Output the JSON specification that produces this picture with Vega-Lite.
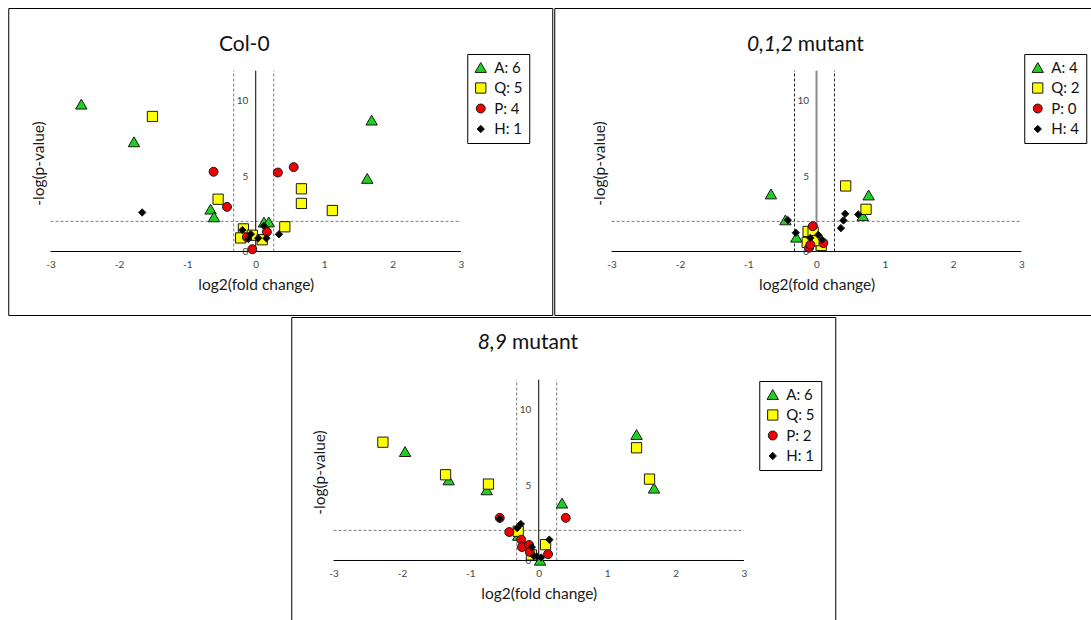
{
  "$schema": "https://vega.github.io/schema/vega-lite/v6.json",
  "background": "white",
  "padding": {"left": 7, "top": 7, "right": 0, "bottom": 0},
  "datasets": {
    "col0": [
      {"cls": "A", "lfc": -2.55, "nlp": 9.78},
      {"cls": "A", "lfc": -1.78, "nlp": 7.28},
      {"cls": "A", "lfc": 1.695, "nlp": 8.72},
      {"cls": "A", "lfc": 1.63, "nlp": 4.85},
      {"cls": "A", "lfc": -0.66, "nlp": 2.81},
      {"cls": "A", "lfc": -0.61, "nlp": 2.3},
      {"cls": "A", "lfc": 0.12, "nlp": 1.95},
      {"cls": "A", "lfc": 0.19, "nlp": 1.96},
      {"cls": "Q", "lfc": -1.51, "nlp": 8.96},
      {"cls": "Q", "lfc": -0.55, "nlp": 3.47},
      {"cls": "Q", "lfc": 0.668, "nlp": 4.16},
      {"cls": "Q", "lfc": 0.668, "nlp": 3.19},
      {"cls": "Q", "lfc": 1.12, "nlp": 2.72},
      {"cls": "Q", "lfc": 0.425, "nlp": 1.64},
      {"cls": "Q", "lfc": -0.18, "nlp": 1.5},
      {"cls": "Q", "lfc": -0.22, "nlp": 0.9},
      {"cls": "Q", "lfc": -0.05, "nlp": 1.08},
      {"cls": "Q", "lfc": 0.095, "nlp": 0.78},
      {"cls": "P", "lfc": -0.616, "nlp": 5.29},
      {"cls": "P", "lfc": -0.42, "nlp": 2.96},
      {"cls": "P", "lfc": 0.324, "nlp": 5.24},
      {"cls": "P", "lfc": 0.555, "nlp": 5.6},
      {"cls": "P", "lfc": 0.163, "nlp": 1.3},
      {"cls": "P", "lfc": -0.05, "nlp": 0.15},
      {"cls": "P", "lfc": -0.13, "nlp": 0.95},
      {"cls": "H", "lfc": -1.66, "nlp": 2.59},
      {"cls": "H", "lfc": -0.195, "nlp": 1.42},
      {"cls": "H", "lfc": 0.12, "nlp": 1.7},
      {"cls": "H", "lfc": 0.34, "nlp": 1.14},
      {"cls": "H", "lfc": -0.107, "nlp": 0.83},
      {"cls": "H", "lfc": -0.072, "nlp": 1.15},
      {"cls": "H", "lfc": 0.036, "nlp": 0.88},
      {"cls": "H", "lfc": 0.155, "nlp": 0.88}
    ],
    "m012": [
      {"cls": "A", "lfc": -0.667, "nlp": 3.82},
      {"cls": "A", "lfc": 0.763, "nlp": 3.75},
      {"cls": "A", "lfc": -0.455, "nlp": 2.1},
      {"cls": "A", "lfc": 0.677, "nlp": 2.38},
      {"cls": "A", "lfc": -0.295, "nlp": 0.95},
      {"cls": "Q", "lfc": 0.427, "nlp": 4.35},
      {"cls": "Q", "lfc": 0.725, "nlp": 2.8},
      {"cls": "Q", "lfc": -0.123, "nlp": 1.33},
      {"cls": "Q", "lfc": -0.05, "nlp": 1.28},
      {"cls": "Q", "lfc": -0.136, "nlp": 0.6},
      {"cls": "Q", "lfc": 0.069, "nlp": 0.4},
      {"cls": "Q", "lfc": 0.01, "nlp": 0.72},
      {"cls": "P", "lfc": -0.055, "nlp": 1.68},
      {"cls": "P", "lfc": -0.108, "nlp": 0.25},
      {"cls": "P", "lfc": 0.1, "nlp": 0.56},
      {"cls": "P", "lfc": -0.09, "nlp": 0.45},
      {"cls": "H", "lfc": 0.42, "nlp": 2.5},
      {"cls": "H", "lfc": 0.395, "nlp": 2.06},
      {"cls": "H", "lfc": 0.357, "nlp": 1.55},
      {"cls": "H", "lfc": 0.611, "nlp": 2.46},
      {"cls": "H", "lfc": -0.42, "nlp": 2.08},
      {"cls": "H", "lfc": -0.303, "nlp": 1.24},
      {"cls": "H", "lfc": 0.025, "nlp": 1.1},
      {"cls": "H", "lfc": 0.08, "nlp": 0.78},
      {"cls": "H", "lfc": -0.09, "nlp": 0.9}
    ],
    "m89": [
      {"cls": "A", "lfc": -1.954, "nlp": 7.23},
      {"cls": "A", "lfc": -1.316, "nlp": 5.35},
      {"cls": "A", "lfc": -0.76, "nlp": 4.69},
      {"cls": "A", "lfc": 0.34, "nlp": 3.81},
      {"cls": "A", "lfc": 1.43, "nlp": 8.36},
      {"cls": "A", "lfc": 1.686, "nlp": 4.8},
      {"cls": "A", "lfc": -0.3, "nlp": 1.67},
      {"cls": "A", "lfc": 0.02, "nlp": 0.02},
      {"cls": "Q", "lfc": -2.278, "nlp": 7.85},
      {"cls": "Q", "lfc": -1.362, "nlp": 5.69},
      {"cls": "Q", "lfc": -0.735, "nlp": 5.07},
      {"cls": "Q", "lfc": 1.43, "nlp": 7.48},
      {"cls": "Q", "lfc": 1.62, "nlp": 5.4},
      {"cls": "Q", "lfc": -0.3, "nlp": 1.94},
      {"cls": "Q", "lfc": 0.1, "nlp": 1.05},
      {"cls": "Q", "lfc": -0.106, "nlp": 0.37},
      {"cls": "P", "lfc": -0.57, "nlp": 2.83},
      {"cls": "P", "lfc": 0.395, "nlp": 2.83},
      {"cls": "P", "lfc": -0.43, "nlp": 1.89},
      {"cls": "P", "lfc": -0.255, "nlp": 1.38},
      {"cls": "P", "lfc": -0.245, "nlp": 0.89},
      {"cls": "P", "lfc": -0.14, "nlp": 1.03},
      {"cls": "P", "lfc": -0.13, "nlp": 0.57},
      {"cls": "P", "lfc": 0.136, "nlp": 0.42},
      {"cls": "H", "lfc": -0.57, "nlp": 2.76},
      {"cls": "H", "lfc": -0.262, "nlp": 2.42},
      {"cls": "H", "lfc": -0.315, "nlp": 2.15},
      {"cls": "H", "lfc": 0.155, "nlp": 1.38},
      {"cls": "H", "lfc": -0.1, "nlp": 0.88},
      {"cls": "H", "lfc": -0.07, "nlp": 0.3},
      {"cls": "H", "lfc": -0.023, "nlp": 0.26},
      {"cls": "H", "lfc": 0.036, "nlp": 0.2}
    ],
    "axislines": [
      {"lfc": -3, "lfc2": 3, "nlp": 0, "nlp2": 0},
      {"lfc": 0, "lfc2": 0, "nlp": 0, "nlp2": 12}
    ],
    "fcCutoffs": [
      {"lfc": -0.322, "lfc2": -0.322, "nlp": 0, "nlp2": 12},
      {"lfc": 0.263, "lfc2": 0.263, "nlp": 0, "nlp2": 12}
    ],
    "pCutoff": [
      {"lfc": -3, "lfc2": 3, "nlp": 2, "nlp2": 2}
    ]
  },
  "vconcat": [
    {
      "hconcat": [
        {
          "width": 544,
          "height": 307,
          "title": {"text": "Col-0", "offset": -64, "dx": -36, "baseline": "alphabetic"},
          "layer": [
            {
              "data": {"name": "pCutoff"},
              "mark": {"type": "rule", "color": "#7a7a7a", "strokeWidth": 1, "strokeDash": [3, 2]},
              "encoding": {
                "x": {"field": "lfc", "type": "quantitative", "scale": {"domain": [-3.618, 4.335], "nice": false, "zero": false},
                  "axis": {"values": [-3, -2, -1, 0, 1, 2, 3], "labelExpr": "'' + datum.value", "offset": -63.5, "title": "log2(fold change)", "titleX": 247.5, "titleY": 38, "titleBaseline": "alphabetic", "labelPadding": 8}},
                "x2": {"field": "lfc2"},
                "y": {"field": "nlp", "type": "quantitative", "scale": {"domain": [-4.214, 16.158], "nice": false, "zero": false},
                  "axis": {"values": [0, 5, 10], "labelExpr": "'' + datum.value", "offset": -247.5, "title": "-log(p-value)", "titleX": -212.5, "titleY": 155, "titleAngle": -90, "titleAlign": "center", "titleBaseline": "alphabetic", "labelPadding": 8}},
                "y2": {"field": "nlp2"}
              }
            },
            {
              "data": {"name": "fcCutoffs"},
              "mark": {"type": "rule", "color": "#7a7a7a", "strokeWidth": 1, "strokeDash": [3, 2]},
              "encoding": {
                "x": {"field": "lfc", "type": "quantitative"},
                "x2": {"field": "lfc2"},
                "y": {"field": "nlp", "type": "quantitative"},
                "y2": {"field": "nlp2"}
              }
            },
            {
              "data": {"name": "axislines"},
              "mark": {"type": "rule", "color": "#000", "strokeWidth": 1},
              "encoding": {
                "x": {"field": "lfc", "type": "quantitative"},
                "x2": {"field": "lfc2"},
                "y": {"field": "nlp", "type": "quantitative"},
                "y2": {"field": "nlp2"}
              }
            },
            {
              "data": {"name": "col0"},
              "mark": {"type": "point", "filled": true, "opacity": 1, "stroke": "#1a1a1a", "strokeWidth": 1},
              "encoding": {
                "x": {"field": "lfc", "type": "quantitative"},
                "y": {"field": "nlp", "type": "quantitative"},
                "color": {"field": "cls", "type": "nominal",
                  "scale": {"domain": ["A", "Q", "P", "H"], "range": ["#20d020", "#ffff00", "#f00000", "#000000"]},
                  "legend": {"title": null, "orient": "none", "legendX": 459, "legendY": 46,
                    "labelExpr": "datum.label == 'A' ? 'A: 6' : datum.label == 'Q' ? 'Q: 5' : datum.label == 'P' ? 'P: 4' : 'H: 1'"}},
                "shape": {"field": "cls", "type": "nominal",
                  "scale": {"domain": ["A", "Q", "P", "H"], "range": ["triangle-up", "square", "circle", "diamond"]}},
                "size": {"field": "cls", "type": "nominal",
                  "scale": {"domain": ["A", "Q", "P", "H"], "range": [130, 55, 55, 40]}, "legend": null}
              }
            }
          ]
        },
        {
          "width": 564,
          "height": 307,
          "layer": [
            {
              "data": {"name": "pCutoff"},
              "mark": {"type": "rule", "color": "#7a7a7a", "strokeWidth": 1, "strokeDash": [3, 2]},
              "encoding": {
                "x": {"field": "lfc", "type": "quantitative", "scale": {"domain": [-3.84, 4.418], "nice": false, "zero": false},
                  "axis": {"values": [-3, -2, -1, 0, 1, 2, 3], "labelExpr": "'' + datum.value", "offset": -63.5, "title": "log2(fold change)", "titleX": 262.3, "titleY": 38, "titleBaseline": "alphabetic", "labelPadding": 8}},
                "x2": {"field": "lfc2"},
                "y": {"field": "nlp", "type": "quantitative", "scale": {"domain": [-4.214, 16.158], "nice": false, "zero": false},
                  "axis": {"values": [0, 5, 10], "labelExpr": "'' + datum.value", "offset": -262.3, "title": "-log(p-value)", "titleX": -212.5, "titleY": 155, "titleAngle": -90, "titleAlign": "center", "titleBaseline": "alphabetic", "labelPadding": 8}},
                "y2": {"field": "nlp2"}
              }
            },
            {
              "data": {"name": "fcCutoffs"},
              "mark": {"type": "rule", "color": "#222", "strokeWidth": 1, "strokeDash": [3, 2]},
              "encoding": {
                "x": {"field": "lfc", "type": "quantitative"},
                "x2": {"field": "lfc2"},
                "y": {"field": "nlp", "type": "quantitative"},
                "y2": {"field": "nlp2"}
              }
            },
            {
              "data": {"name": "axislines"},
              "transform": [{"filter": "datum.nlp2 == 0"}],
              "mark": {"type": "rule", "color": "#000", "strokeWidth": 1},
              "encoding": {
                "x": {"field": "lfc", "type": "quantitative"},
                "x2": {"field": "lfc2"},
                "y": {"field": "nlp", "type": "quantitative"},
                "y2": {"field": "nlp2"}
              }
            },
            {
              "data": {"name": "axislines"},
              "transform": [{"filter": "datum.nlp2 > 0"}],
              "mark": {"type": "rule", "color": "#8c8c8c", "strokeWidth": 2},
              "encoding": {
                "x": {"field": "lfc", "type": "quantitative"},
                "x2": {"field": "lfc2"},
                "y": {"field": "nlp", "type": "quantitative"},
                "y2": {"field": "nlp2"}
              }
            },
            {
              "data": {"name": "m012"},
              "mark": {"type": "point", "filled": true, "opacity": 1, "stroke": "#1a1a1a", "strokeWidth": 1},
              "encoding": {
                "x": {"field": "lfc", "type": "quantitative"},
                "y": {"field": "nlp", "type": "quantitative"},
                "color": {"field": "cls", "type": "nominal",
                  "scale": {"domain": ["A", "Q", "P", "H"], "range": ["#20d020", "#ffff00", "#f00000", "#000000"]},
                  "legend": {"title": null, "orient": "none", "legendX": 470, "legendY": 46,
                    "labelExpr": "datum.label == 'A' ? 'A: 4' : datum.label == 'Q' ? 'Q: 2' : datum.label == 'P' ? 'P: 0' : 'H: 4'"}},
                "shape": {"field": "cls", "type": "nominal",
                  "scale": {"domain": ["A", "Q", "P", "H"], "range": ["triangle-up", "square", "circle", "diamond"]}},
                "size": {"field": "cls", "type": "nominal",
                  "scale": {"domain": ["A", "Q", "P", "H"], "range": [130, 55, 55, 40]}, "legend": null}
              }
            },
            {
              "data": {"values": [{}]},
              "mark": {"type": "text", "text": "0,1,2", "font": "Lato", "fontSize": 21, "fontStyle": "italic", "align": "right", "baseline": "alphabetic", "color": "#111"},
              "encoding": {"x": {"datum": -0.345}, "y": {"datum": 13.29}}
            },
            {
              "data": {"values": [{}]},
              "mark": {"type": "text", "text": "mutant", "font": "Lato", "fontSize": 21, "align": "left", "baseline": "alphabetic", "color": "#111"},
              "encoding": {"x": {"datum": -0.275}, "y": {"datum": 13.29}}
            }
          ]
        }
      ],
      "spacing": 0,
      "resolve": {"scale": {"color": "independent", "shape": "independent", "size": "independent"}}
    },
    {
      "width": 544,
      "height": 307,
      "layer": [
        {
          "data": {"name": "pCutoff"},
          "mark": {"type": "rule", "color": "#7a7a7a", "strokeWidth": 1, "strokeDash": [3, 2]},
          "encoding": {
            "x": {"field": "lfc", "type": "quantitative", "scale": {"domain": [-3.618, 4.335], "nice": false, "zero": false},
              "axis": {"values": [-3, -2, -1, 0, 1, 2, 3], "labelExpr": "'' + datum.value", "offset": -63.5, "title": "log2(fold change)", "titleX": 247.5, "titleY": 38, "titleBaseline": "alphabetic", "labelPadding": 8}},
            "x2": {"field": "lfc2"},
            "y": {"field": "nlp", "type": "quantitative", "scale": {"domain": [-4.214, 16.158], "nice": false, "zero": false},
              "axis": {"values": [0, 5, 10], "labelExpr": "'' + datum.value", "offset": -247.5, "title": "-log(p-value)", "titleX": -214, "titleY": 155, "titleAngle": -90, "titleAlign": "center", "titleBaseline": "alphabetic", "labelPadding": 8}},
            "y2": {"field": "nlp2"}
          }
        },
        {
          "data": {"name": "fcCutoffs"},
          "mark": {"type": "rule", "color": "#7a7a7a", "strokeWidth": 1, "strokeDash": [3, 2]},
          "encoding": {
            "x": {"field": "lfc", "type": "quantitative"},
            "x2": {"field": "lfc2"},
            "y": {"field": "nlp", "type": "quantitative"},
            "y2": {"field": "nlp2"}
          }
        },
        {
          "data": {"name": "axislines"},
          "mark": {"type": "rule", "color": "#000", "strokeWidth": 1},
          "encoding": {
            "x": {"field": "lfc", "type": "quantitative"},
            "x2": {"field": "lfc2"},
            "y": {"field": "nlp", "type": "quantitative"},
            "y2": {"field": "nlp2"}
          }
        },
        {
          "data": {"name": "m89"},
          "mark": {"type": "point", "filled": true, "opacity": 1, "stroke": "#1a1a1a", "strokeWidth": 1},
          "encoding": {
            "x": {"field": "lfc", "type": "quantitative"},
            "y": {"field": "nlp", "type": "quantitative"},
            "color": {"field": "cls", "type": "nominal",
              "scale": {"domain": ["A", "Q", "P", "H"], "range": ["#20d020", "#ffff00", "#f00000", "#000000"]},
              "legend": {"title": null, "orient": "none", "legendX": 468, "legendY": 64,
                "labelExpr": "datum.label == 'A' ? 'A: 6' : datum.label == 'Q' ? 'Q: 5' : datum.label == 'P' ? 'P: 2' : 'H: 1'"}},
            "shape": {"field": "cls", "type": "nominal",
              "scale": {"domain": ["A", "Q", "P", "H"], "range": ["triangle-up", "square", "circle", "diamond"]}},
            "size": {"field": "cls", "type": "nominal",
              "scale": {"domain": ["A", "Q", "P", "H"], "range": [130, 55, 55, 40]}, "legend": null}
          }
        },
        {
          "data": {"values": [{}]},
          "mark": {"type": "text", "text": "8,9", "font": "Lato", "fontSize": 21, "fontStyle": "italic", "align": "right", "baseline": "alphabetic", "color": "#111"},
          "encoding": {"x": {"datum": -0.465}, "y": {"datum": 14.05}}
        },
        {
          "data": {"values": [{}]},
          "mark": {"type": "text", "text": "mutant", "font": "Lato", "fontSize": 21, "align": "left", "baseline": "alphabetic", "color": "#111"},
          "encoding": {"x": {"datum": -0.39}, "y": {"datum": 14.05}}
        }
      ]
    }
  ],
  "spacing": 0,
  "center": true,
  "resolve": {"scale": {"color": "independent", "shape": "independent", "size": "independent"}},
  "config": {
    "font": "Lato",
    "view": {"stroke": "#000", "strokeWidth": 1},
    "axis": {
      "grid": false, "domain": false, "ticks": false, "tickSize": 0,
      "labelFont": "Lato", "labelFontSize": 10, "labelColor": "#444", "labelFlush": false, "labelOverlap": false,
      "titleFont": "Lato", "titleFontSize": 15.5, "titleFontWeight": "normal", "titleColor": "#1a1a1a"
    },
    "legend": {
      "strokeColor": "#000", "fillColor": "#fff", "padding": 6, "cornerRadius": 0,
      "labelFont": "Lato", "labelFontSize": 15, "labelColor": "#111", "labelOffset": 6,
      "symbolSize": 170, "symbolStrokeWidth": 1, "symbolStrokeColor": "#1a1a1a", "rowPadding": 4.5
    },
    "title": {"font": "Lato", "fontSize": 21, "fontWeight": "normal", "color": "#111", "anchor": "middle"}
  }
}
